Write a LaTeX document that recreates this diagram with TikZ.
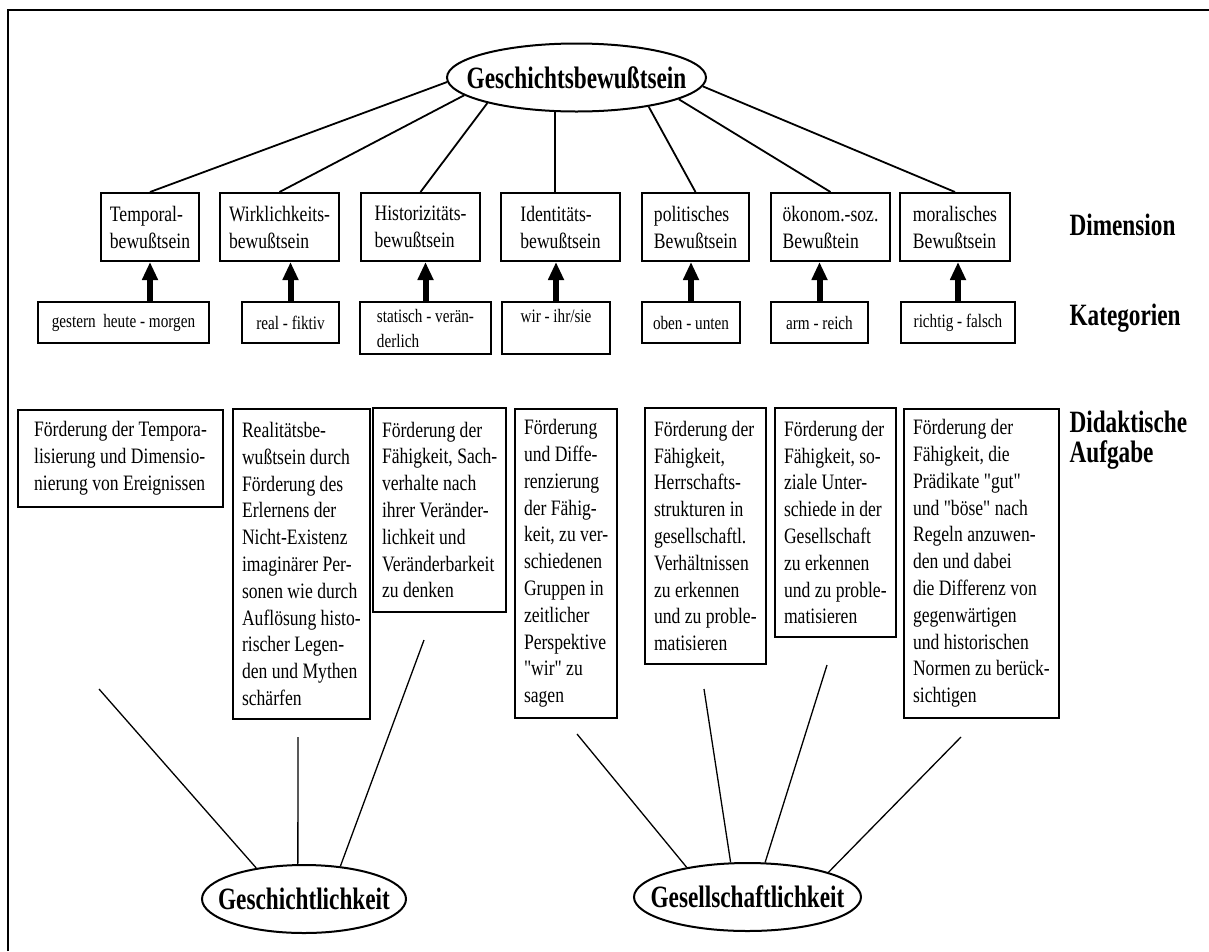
\documentclass[tikz,border=0pt]{standalone}
\usepackage{fontspec}
\setmainfont{Liberation Serif}[FakeStretch=0.8, Ligatures=TeXOff]
\newfontfamily\headfont{Liberation Serif}[FakeStretch=0.75]
\usetikzlibrary{shapes.geometric,arrows.meta}

\tikzset{
  kasten/.style={draw, line width=2pt, align=left, inner xsep=9pt, inner ysep=7pt},
  dimbox/.style={kasten, minimum height=68pt, font=\fontsize{22}{27}\selectfont},
  katbox/.style={kasten, anchor=north, minimum height=41pt, font=\fontsize{19}{25}\selectfont},
  aufgbox/.style={kasten, anchor=north west, font=\fontsize{22}{26.8}\selectfont},
  pol/.style={ellipse, draw, line width=2pt, inner sep=0pt, minimum height=68pt,
    font=\headfont\bfseries\fontsize{31}{30}\selectfont},
  ebene/.style={anchor=west, align=left, font=\headfont\bfseries\fontsize{31}{30}\selectfont},
  kat/.style={line width=6pt, -{Triangle[length=18pt,width=15pt]}},
  ast/.style={line width=1.8pt},
  zweig/.style={line width=1.3pt}
}

\begin{document}
\begin{tikzpicture}[x=1pt,y=-1pt]
  \useasboundingbox (0,0) rectangle (1209,951);
  \draw[line width=2.5pt] (8,951) -- (8,10) -- (1209,10);

  \node[pol, minimum width=259pt] (gb) at (576.5,77.5) {\makebox[0pt]{Geschichtsbewußtsein}};

  \foreach \n/\x/\w/\t in {temporal/150/96/Temporal-\\bewußtsein,
      wirk/279.5/119/Wirklichkeits-\\bewußtsein, hist/420.5/119/Historizitäts-\\bewußtsein,
      ident/560.5/119/Identitäts-\\bewußtsein, polit/695.5/107/politisches\\Bewußtsein,
      oekon/830.5/119/ökonom.-soz.\\Bewußtein, moral/955/110/moralisches\\Bewußtsein}
    \node[dimbox, minimum width=\w pt] (\n) at (\x,227) {\t};

  \foreach \n/\x/\w/\t in {gestern/123.5/171/{gestern \ heute - morgen},
      real/290.5/97/{real - fiktiv}, statisch/425.5/131/{statisch - verän-\\derlich},
      wir/556/108/{wir - ihr/sie\\\mbox{}}, oben/691/98/{oben - unten},
      arm/819.5/97/{arm - reich}, richtig/958/114/{richtig - falsch}}
    \node[katbox, minimum width=\w pt] (\n) at (\x,301) {\t};

  \draw[kat] (temporal.south |- gestern.north) -- (temporal.south);
  \foreach \k/\d in {real/wirk, statisch/hist, wir/ident, oben/polit, arm/oekon, richtig/moral}
    \draw[kat] (\k.north) -- (\k.north |- \d.south);

  \foreach \d/\a in {temporal/182, wirk/189, hist/196, polit/338, oekon/348, moral/356}
    \draw[ast] (gb.\a) -- (\d.north);
  \draw[ast] (gb.238) -- (gb.238 |- ident.north);

  \node[aufgbox, minimum width=205pt, minimum height=97pt] (a1) at (17,409)
    {Förderung der Tempora-\\lisierung und Dimensio-\\nierung von Ereignissen};
  \node[aufgbox, minimum width=130pt, minimum height=310pt] (a2) at (232,408)
    {Realitätsbe-\\wußtsein durch\\Förderung des\\Erlernens der\\Nicht-Existenz\\imaginärer Per-\\sonen wie durch\\Auflösung histo-\\rischer Legen-\\den und Mythen\\schärfen};
  \node[aufgbox, minimum width=131pt, minimum height=204pt] (a3) at (372,407)
    {Förderung der\\Fähigkeit, Sach-\\verhalte nach\\ihrer Veränder-\\lichkeit und\\Veränderbarkeit\\zu denken};
  \node[aufgbox, minimum width=97pt, minimum height=309pt] (a4) at (514,408)
    {Förderung\\und Diffe-\\renzierung\\der Fähig-\\keit, zu ver-\\schiedenen\\Gruppen in\\zeitlicher\\Perspektive\\"wir" zu\\sagen};
  \node[aufgbox, minimum width=118pt, minimum height=256pt] (a5) at (644,407)
    {Förderung der\\Fähigkeit,\\Herrschafts-\\strukturen in\\gesellschaftl.\\Verhältnissen\\zu erkennen\\und zu proble-\\matisieren};
  \node[aufgbox, minimum width=119pt, minimum height=229pt] (a6) at (774,407)
    {Förderung der\\Fähigkeit, so-\\ziale Unter-\\schiede in der\\Gesellschaft\\zu erkennen\\und zu proble-\\matisieren};
  \node[aufgbox, minimum width=151pt, minimum height=309pt] (a7) at (903,408)
    {Förderung der\\Fähigkeit, die\\Prädikate "gut"\\und "böse" nach\\Regeln anzuwen-\\den und dabei\\die Differenz von\\gegenwärtigen\\und historischen\\Normen zu berück-\\sichtigen};

  \node[ebene] (ldim) at (1066,225) {Dimension};
  \node[ebene] (lkat) at (1066,318) {Kategorien};
  \node[ebene] (laufg) at (1066,440) {Didaktische\\Aufgabe};

  \node[pol, minimum width=204pt] (gk) at (304,899) {\makebox[0pt]{Geschichtlichkeit}};
  \node[pol, minimum width=227pt] (gs) at (747.5,897) {\makebox[0pt]{Gesellschaftlichkeit}};

  \coordinate (g1) at (99,689);
  \coordinate (g2) at (298,737);
  \coordinate (g3) at (424,640);
  \coordinate (s1) at (577,734);
  \coordinate (s2) at (704,689);
  \coordinate (s3) at (827,665);
  \coordinate (s4) at (961,737);
  \foreach \c/\a in {g1/147, g2/100, g3/42}
    \draw[zweig] (\c) -- (gk.\a);
  \foreach \c/\a in {s1/154, s2/116, s3/63, s4/17}
    \draw[zweig] (\c) -- (gs.\a);
\end{tikzpicture}
\end{document}
